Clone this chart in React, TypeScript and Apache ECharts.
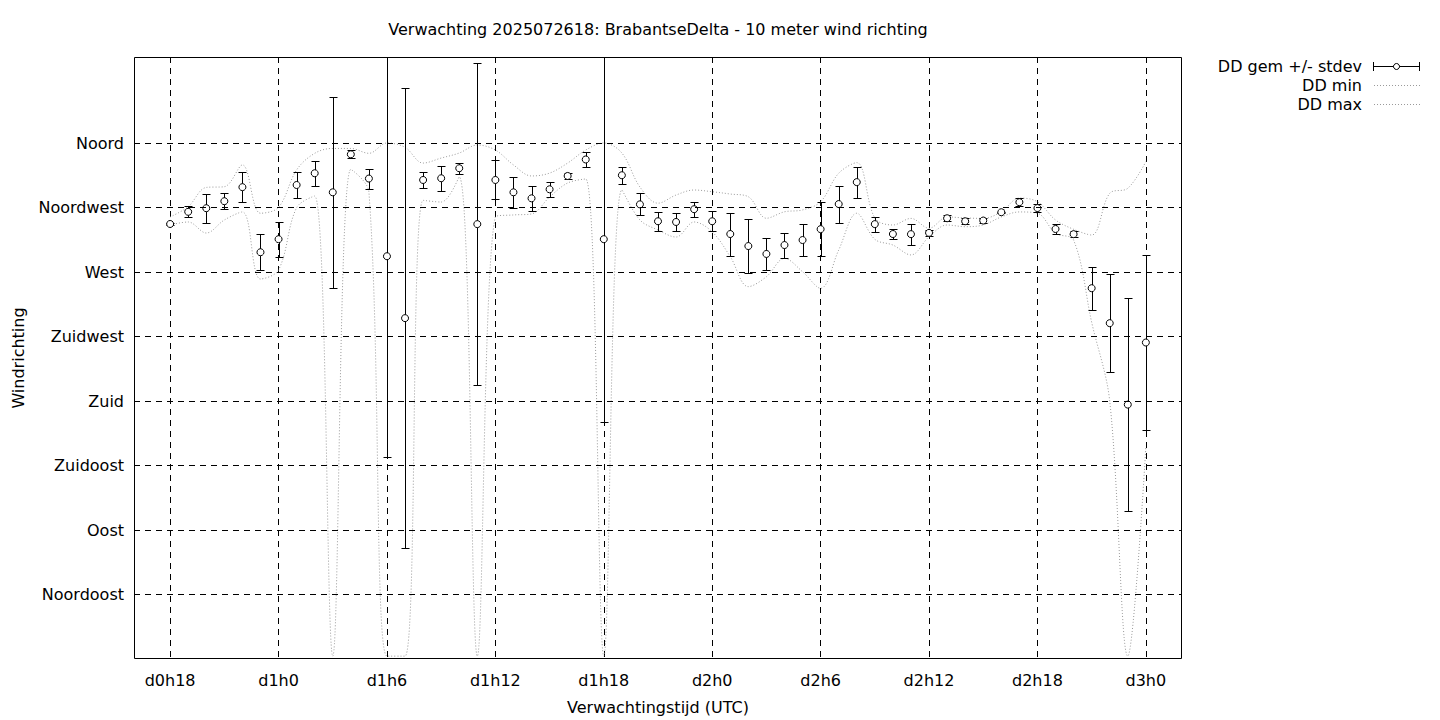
import React, { useEffect, useRef } from 'react';
import * as echarts from 'echarts';

// Axis categories (hours), including the padding hours at both ends of the plot
const categories = [
  'd0h16', 'd0h17', 'd0h18', 'd0h19', 'd0h20', 'd0h21', 'd0h22', 'd0h23',
  'd1h0', 'd1h1', 'd1h2', 'd1h3', 'd1h4', 'd1h5', 'd1h6', 'd1h7', 'd1h8', 'd1h9', 'd1h10', 'd1h11',
  'd1h12', 'd1h13', 'd1h14', 'd1h15', 'd1h16', 'd1h17', 'd1h18', 'd1h19', 'd1h20', 'd1h21', 'd1h22', 'd1h23',
  'd2h0', 'd2h1', 'd2h2', 'd2h3', 'd2h4', 'd2h5', 'd2h6', 'd2h7', 'd2h8', 'd2h9', 'd2h10', 'd2h11',
  'd2h12', 'd2h13', 'd2h14', 'd2h15', 'd2h16', 'd2h17', 'd2h18', 'd2h19', 'd2h20', 'd2h21', 'd2h22', 'd2h23',
  'd3h0', 'd3h1', 'd3h2',
];

// Forecast hours that carry data
const hours = [
  'd0h18', 'd0h19', 'd0h20', 'd0h21', 'd0h22', 'd0h23',
  'd1h0', 'd1h1', 'd1h2', 'd1h3', 'd1h4', 'd1h5', 'd1h6', 'd1h7', 'd1h8', 'd1h9', 'd1h10', 'd1h11',
  'd1h12', 'd1h13', 'd1h14', 'd1h15', 'd1h16', 'd1h17', 'd1h18', 'd1h19', 'd1h20', 'd1h21', 'd1h22', 'd1h23',
  'd2h0', 'd2h1', 'd2h2', 'd2h3', 'd2h4', 'd2h5', 'd2h6', 'd2h7', 'd2h8', 'd2h9', 'd2h10', 'd2h11',
  'd2h12', 'd2h13', 'd2h14', 'd2h15', 'd2h16', 'd2h17', 'd2h18', 'd2h19', 'd2h20', 'd2h21', 'd2h22', 'd2h23',
  'd3h0',
];

const xTickLabels = ['d0h18', 'd1h0', 'd1h6', 'd1h12', 'd1h18', 'd2h0', 'd2h6', 'd2h12', 'd2h18', 'd3h0'];
const yTickValues = [45, 90, 135, 180, 225, 270, 315, 360];
const yTickLabels = ['Noordoost', 'Oost', 'Zuidoost', 'Zuid', 'Zuidwest', 'West', 'Noordwest', 'Noord'];

// Wind direction (degrees)
const ddMean = [
  303.5, 312.0, 314.5, 319.4, 329.2, 283.8,
  292.9, 330.7, 338.9, 325.6, 352.1, 335.2, 281.0, 237.8, 334.2, 335.4, 342.4, 303.4,
  334.2, 325.6, 321.4, 327.7, 337.0, 348.5, 292.9, 337.5, 317.2, 305.4, 304.9, 313.8,
  305.4, 296.5, 288.1, 282.6, 288.8, 292.3, 299.9, 317.4, 332.7, 303.4, 296.5, 296.4,
  297.3, 307.5, 305.4, 305.9, 311.7, 318.7, 314.6, 300.0, 296.4, 258.7, 234.3, 177.5,
  220.8,
];

const ddStdev = [
  1.0, 3.7, 10.2, 5.6, 10.5, 12.6,
  12.1, 9.4, 8.7, 66.5, 2.9, 7.0, 140.3, 160.7, 5.6, 8.7, 3.8, 112.3,
  13.6, 11.0, 8.9, 5.1, 2.1, 5.2, 127.5, 5.9, 7.7, 6.5, 6.5, 5.3,
  6.9, 15.0, 18.6, 11.3, 8.7, 11.2, 19.0, 12.9, 10.8, 5.2, 3.6, 7.3,
  2.0, 2.1, 2.0, 1.7, 0.5, 2.6, 2.9, 3.4, 2.1, 15.1, 34.4, 74.4,
  61.2,
];

const ddMin = [
  302.8, 304.9, 297.2, 306.3, 311.9, 265.1,
  271.4, 314.9, 323.0, 2.0, 341.6, 326.0, 2.0, 2.0, 320.0, 318.8, 336.3, 2.0,
  308.4, 309.8, 310.5, 322.3, 332.1, 334.9, 2.0, 327.2, 306.3, 299.3, 294.4, 304.9,
  298.0, 280.7, 259.8, 266.7, 279.5, 270.2, 258.6, 285.3, 311.0, 292.8, 288.8, 281.9,
  294.6, 302.8, 301.6, 302.8, 308.4, 311.9, 311.0, 297.0, 292.3, 235.0, 180.0, 2.0,
  148.0,
];

const ddMax = [
  308.4, 315.6, 329.0, 329.5, 344.7, 311.0,
  315.1, 341.2, 352.8, 356.2, 356.2, 352.8, 360.0, 357.0, 346.0, 349.5, 353.0, 358.6,
  355.1, 344.7, 337.0, 339.0, 346.0, 355.1, 360.0, 353.0, 329.3, 318.0, 323.7, 327.2,
  326.0, 324.4, 322.5, 307.5, 312.0, 313.3, 319.0, 338.9, 346.3, 307.7, 302.8, 307.4,
  300.5, 308.4, 307.7, 307.4, 312.0, 321.6, 319.0, 306.3, 299.8, 295.8, 324.9, 328.4,
  347.0,
];

const FONT = 'DejaVu Sans';
const FS = 16;
const DOT_COLOR = '#9a9a9a';

export default function App() {
  const ref = useRef<HTMLDivElement>(null);

  useEffect(() => {
    if (!ref.current) return;
    const chart = echarts.init(ref.current, undefined, { renderer: 'svg' });

    const showTick = (_i: number, v: string) => xTickLabels.indexOf(v) >= 0;

    const option: any = {
      animation: false,
      backgroundColor: '#fff',
      textStyle: { fontFamily: FONT },
      grid: { left: 134, top: 57, width: 1048, height: 602, containLabel: false },
      xAxis: {
        type: 'category',
        data: categories,
        boundaryGap: false,
        axisLine: { show: false },
        axisTick: { show: false },
        axisLabel: {
          interval: showTick,
          color: '#000',
          fontFamily: FONT,
          fontSize: FS,
          margin: 13,
        },
        splitLine: {
          show: true,
          interval: showTick,
          lineStyle: { color: '#000', width: 1, type: [6, 5] },
        },
      },
      yAxis: {
        type: 'value',
        min: 0,
        max: 420,
        interval: 45,
        axisLine: { show: false },
        axisTick: { show: false },
        splitLine: { show: false },
        axisLabel: {
          color: '#000',
          fontFamily: FONT,
          fontSize: FS,
          margin: 10,
          showMaxLabel: false,
          formatter: (v: number) => {
            const i = yTickValues.indexOf(v);
            return i >= 0 ? yTickLabels[i] : '';
          },
        },
      },
      series: [
        {
          name: 'DD min',
          type: 'line',
          data: hours.map((h, i) => [h, ddMin[i]]),
          smooth: 0.35,
          symbol: 'none',
          showSymbol: false,
          silent: true,
          z: 2,
          lineStyle: { color: DOT_COLOR, width: 1, type: [1, 2] },
          markLine: {
            silent: true,
            symbol: ['none', 'none'],
            label: { show: false },
            lineStyle: { color: '#000', width: 1, type: [6, 5] },
            data: yTickValues.map((v) => ({ yAxis: v })),
          },
        },
        {
          name: 'DD max',
          type: 'line',
          data: hours.map((h, i) => [h, ddMax[i]]),
          smooth: 0.35,
          symbol: 'none',
          showSymbol: false,
          silent: true,
          z: 2,
          lineStyle: { color: DOT_COLOR, width: 1, type: [1, 2] },
        },
        {
          name: 'DD gem +/- stdev',
          type: 'custom',
          clip: true,
          z: 3,
          silent: true,
          data: hours.map((h, i) => [h, ddMean[i], ddStdev[i]]),
          encode: { x: 0, y: 1 },
          renderItem: (_params: any, api: any) => {
            const xi = api.value(0);
            const m = api.value(1);
            const s = api.value(2);
            const top = api.coord([xi, m + s]);
            const bot = api.coord([xi, m - s]);
            const x = Math.round(top[0]) + 0.5;
            const y1 = Math.round(top[1]) + 0.5;
            const y2 = Math.round(bot[1]) + 0.5;
            const hw = 4;
            const st = { stroke: '#000', lineWidth: 1, fill: null };
            return {
              type: 'group',
              children: [
                { type: 'line', shape: { x1: x, y1, x2: x, y2 }, style: st },
                { type: 'line', shape: { x1: x - hw, y1, x2: x + hw, y2: y1 }, style: st },
                { type: 'line', shape: { x1: x - hw, y1: y2, x2: x + hw, y2 }, style: st },
              ],
            };
          },
        },
        {
          name: 'DD gem',
          type: 'scatter',
          data: hours.map((h, i) => [h, ddMean[i]]),
          symbol: 'circle',
          symbolSize: 7,
          silent: true,
          z: 4,
          itemStyle: { color: '#fff', borderColor: '#000', borderWidth: 1, opacity: 1 },
        },
      ],
      graphic: [
        {
          type: 'rect',
          silent: true,
          z: 100,
          shape: { x: 134.5, y: 57.5, width: 1047, height: 601 },
          style: { fill: null, stroke: '#000', lineWidth: 1 },
        },
        {
          type: 'text',
          x: 658,
          y: 29,
          style: {
            text: 'Verwachting 2025072618: BrabantseDelta - 10 meter wind richting',
            fontFamily: FONT,
            fontSize: FS,
            fill: '#000',
            textAlign: 'center',
            textVerticalAlign: 'middle',
          },
        },
        {
          type: 'text',
          x: 658,
          y: 707,
          style: {
            text: 'Verwachtingstijd (UTC)',
            fontFamily: FONT,
            fontSize: FS,
            fill: '#000',
            textAlign: 'center',
            textVerticalAlign: 'middle',
          },
        },
        {
          type: 'text',
          x: 18,
          y: 358,
          rotation: Math.PI / 2,
          style: {
            text: 'Windrichting',
            fontFamily: FONT,
            fontSize: FS,
            fill: '#000',
            textAlign: 'center',
            textVerticalAlign: 'middle',
          },
        },
        // Legend
        {
          type: 'text',
          x: 1362,
          y: 66,
          style: { text: 'DD gem +/- stdev', fontFamily: FONT, fontSize: FS, fill: '#000', textAlign: 'right', textVerticalAlign: 'middle' },
        },
        {
          type: 'text',
          x: 1362,
          y: 85,
          style: { text: 'DD min', fontFamily: FONT, fontSize: FS, fill: '#000', textAlign: 'right', textVerticalAlign: 'middle' },
        },
        {
          type: 'text',
          x: 1362,
          y: 104,
          style: { text: 'DD max', fontFamily: FONT, fontSize: FS, fill: '#000', textAlign: 'right', textVerticalAlign: 'middle' },
        },
        { type: 'line', shape: { x1: 1373, y1: 66.5, x2: 1420, y2: 66.5 }, style: { stroke: '#000', lineWidth: 1 } },
        { type: 'line', shape: { x1: 1373.5, y1: 62, x2: 1373.5, y2: 71 }, style: { stroke: '#000', lineWidth: 1 } },
        { type: 'line', shape: { x1: 1419.5, y1: 62, x2: 1419.5, y2: 71 }, style: { stroke: '#000', lineWidth: 1 } },
        { type: 'circle', shape: { cx: 1396.5, cy: 66.5, r: 3 }, style: { fill: '#fff', stroke: '#000', lineWidth: 1 } },
        { type: 'line', shape: { x1: 1374, y1: 85.5, x2: 1420, y2: 85.5 }, style: { stroke: DOT_COLOR, lineWidth: 1, lineDash: [1, 2] } },
        { type: 'line', shape: { x1: 1374, y1: 104.5, x2: 1420, y2: 104.5 }, style: { stroke: DOT_COLOR, lineWidth: 1, lineDash: [1, 2] } },
      ],
    };

    chart.setOption(option);
    return () => chart.dispose();
  }, []);

  return (
    <div
      ref={ref}
      style={{ position: 'fixed', left: 0, top: 0, width: 1440, height: 720, background: '#fff' }}
    />
  );
}
